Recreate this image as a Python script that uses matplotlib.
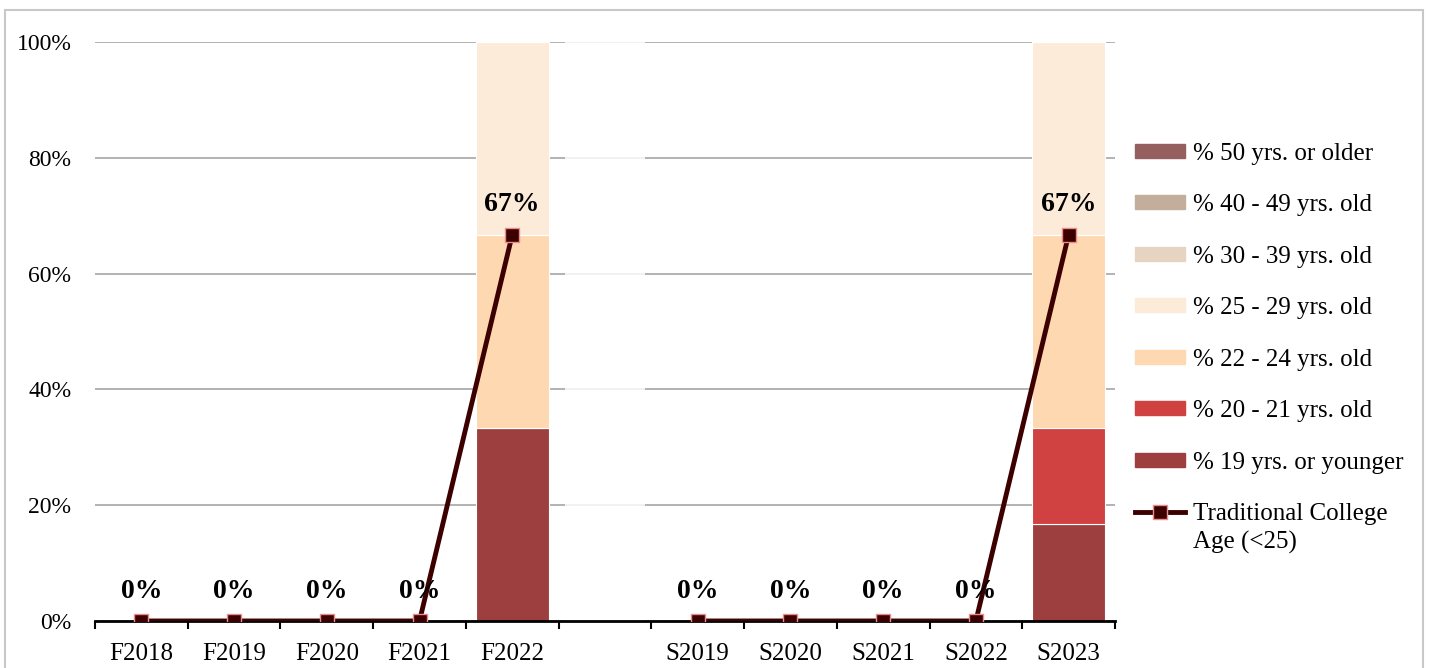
import numpy as np
import matplotlib
matplotlib.use("Agg")
import matplotlib.pyplot as plt
from matplotlib.patches import Rectangle, Patch
from matplotlib.lines import Line2D
from matplotlib.ticker import PercentFormatter

plt.rcParams['font.family'] = ['Liberation Serif', 'DejaVu Serif']

# ---- data ----
terms = ["F2018", "F2019", "F2020", "F2021", "F2022", "",
         "S2019", "S2020", "S2021", "S2022", "S2023"]
gap_idx = 5

age_19_under = [0, 0, 0, 0, 0.333, 0, 0, 0, 0, 0, 0.167]
age_20_21 = [0, 0, 0, 0, 0, 0, 0, 0, 0, 0, 0.167]
age_22_24 = [0, 0, 0, 0, 0.333, 0, 0, 0, 0, 0, 0.333]
age_25_29 = [0, 0, 0, 0, 0.334, 0, 0, 0, 0, 0, 0.333]
age_30_39 = [0] * 11
age_40_49 = [0] * 11
age_50_up = [0] * 11

trad_age = [0, 0, 0, 0, 0.667, np.nan, 0, 0, 0, 0, 0.667]

series = [
    ("% 19 yrs. or younger", age_19_under, "#9e3f3f"),
    ("% 20 - 21 yrs. old", age_20_21, "#d04141"),
    ("% 22 - 24 yrs. old", age_22_24, "#fdd8b1"),
    ("% 25 - 29 yrs. old", age_25_29, "#fdebd9"),
    ("% 30 - 39 yrs. old", age_30_39, "#e6d3c1"),
    ("% 40 - 49 yrs. old", age_40_49, "#c3ae9b"),
    ("% 50 yrs. or older", age_50_up, "#955f5f"),
]
line_color = "#3d0000"

# ---- plot ----
fig = plt.figure(figsize=(14.3, 6.68), dpi=100)
ax = fig.add_axes([0.0664, 0.0704, 0.7133, 0.8667])

x = np.arange(len(terms))
bottom = np.zeros(len(terms))
for name, vals, col in series:
    vals = np.array(vals, dtype=float)
    ax.bar(x, vals, 0.79, bottom=bottom, color=col, edgecolor="white",
           linewidth=0.8, zorder=2)
    bottom += vals

# blank spacer column hides most of the gridlines
ax.bar(gap_idx, 1.0, 0.86, color="white", alpha=0.82, zorder=1.5)

ax.plot(x, trad_age, color=line_color, lw=3.5, marker="s", ms=10.5,
        mfc=line_color, mec="#e88c8c", mew=1, zorder=4)

for xi, v in zip(x, trad_age):
    if np.isnan(v):
        continue
    ax.annotate(f"{v:.0%}", (xi, v), xytext=(0, 21.5), textcoords="offset points",
                ha="center", va="center", fontsize=20, fontweight="bold", zorder=5)

ax.set_xlim(-0.5, len(terms) - 0.5)
ax.set_ylim(0, 1.0)
ax.yaxis.set_major_formatter(PercentFormatter(1.0, decimals=0))
ax.set_yticks(np.arange(0, 1.01, 0.2))
ax.grid(axis="y", color="#a6a6a6", lw=1.2, zorder=1)
ax.set_axisbelow(True)

ax.set_xticks(x)
ax.set_xticklabels(terms)
ax.set_xticks(np.arange(-0.5, len(terms), 1), minor=True)
ax.tick_params(axis="x", which="major", length=0, labelsize=18, pad=16)
ax.tick_params(axis="x", which="minor", length=6, width=1.5, direction="out")
ax.tick_params(axis="y", length=0, labelsize=17, pad=17)

for s in ["top", "right", "left"]:
    ax.spines[s].set_visible(False)
ax.spines["bottom"].set_linewidth(2)
ax.spines["bottom"].set_zorder(3)

# legend: last entry wraps, second line added as plain text under it
handles = [Patch(color=col, label=name) for name, vals, col in series[::-1]]
handles.append(Line2D([], [], color=line_color, lw=3.5, marker="s", ms=10.5,
                      mfc=line_color, mec="#e88c8c", mew=1,
                      label="Traditional College"))
leg = fig.legend(handles=handles, loc="upper left", bbox_to_anchor=(0.778, 0.82),
                 frameon=False, fontsize=18, labelspacing=1.18, handlelength=2.0,
                 handleheight=0.5, handletextpad=0.3)

fig.canvas.draw()
last = leg.get_texts()[-1]
bb = last.get_window_extent().transformed(fig.transFigure.inverted())
fig.text(bb.x0, bb.y0 - 0.009, "Age (<25)", fontsize=18, ha="left", va="top")

fig.patches.append(Rectangle((0.0035, -0.02), 0.9916, 1.005, transform=fig.transFigure,
                             fill=False, edgecolor="#c8c8c8", lw=1.5))

fig.savefig("out.png", dpi=100)
